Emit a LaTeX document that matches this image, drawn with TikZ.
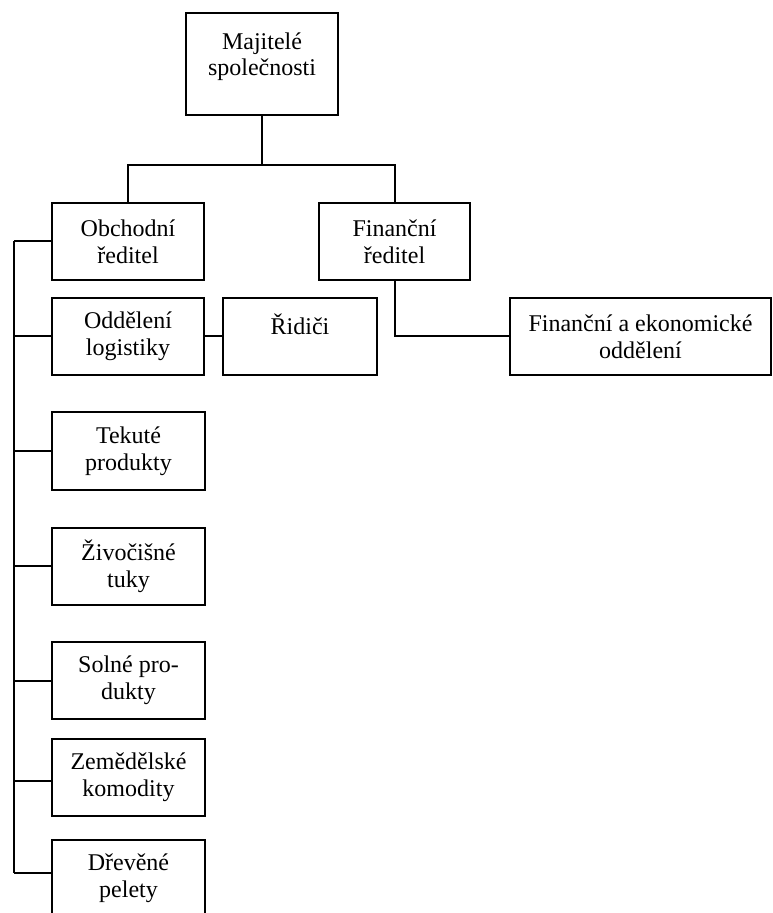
\documentclass[tikz,border=0pt]{standalone}
\usepackage{fontspec}
\setmainfont{Liberation Serif}
\begin{document}
\begin{tikzpicture}[x=0.5pt,y=-0.5pt,
  box/.style={draw,line width=1pt,inner sep=0pt,align=center,font=\fontsize{12}{13.3}\selectfont,minimum height=38.5pt},
  txt/.style={inner sep=0pt,align=center,font=\fontsize{12}{12.8}\selectfont},
  conn/.style={line width=1pt}]
\useasboundingbox (0,0) rectangle (772,913);
\clip (0,0) rectangle (772,913);
% boxes
\node[box,minimum width=76pt,minimum height=51pt] (own) at (262,64) {};
\node[txt] (ownt) at (262,57) {Majitelé\\společnosti};
\node[box,minimum width=76pt] (obch) at (128,241.5) {Obchodní\\ředitel};
\node[box,minimum width=75.5pt] (fin) at (394.5,241.5) {Finanční\\ředitel};
\node[box,minimum width=76pt] (log) at (128,336.5) {Oddělení\\logistiky};
\node[box,minimum width=77pt] (rid) at (300,336.5) {};
\node[txt] (ridt) at (300,324) {Řidiči};
\node[box,minimum width=130.5pt] (feo) at (640.5,336.5) {Finanční a ekonomické\\oddělení};
\node[box,minimum width=76.5pt] (tek) at (128.5,451) {Tekuté\\produkty};
\node[box,minimum width=76.5pt] (ziv) at (128.5,566) {Živočišné\\tuky};
\node[box,minimum width=76.5pt] (sol) at (128.5,680.5) {Solné pro-\\dukty};
\node[box,minimum width=76.5pt] (zem) at (128.5,777) {Zemědělské\\komodity};
\node[box,minimum width=76.5pt] (dre) at (128.5,878.5) {Dřevěné\\pelety};
% connectors
\coordinate (bus) at (262,165);
\draw[conn] (own.south) -- (bus);
\draw[conn] (obch.north) |- (bus) -| (fin.north);
\draw[conn] (fin.south) |- (feo.west);
\draw[conn] (log.east) -- (rid.west);
\coordinate (st) at (14,241.5);
\coordinate (sb) at (14,873);
\coordinate (zc) at (14,781);
\draw[conn] (st) -- (sb);
\draw[conn] (st) -- (obch.west);
\draw[conn] (st |- log.west) -- (log.west);
\draw[conn] (st |- tek.west) -- (tek.west);
\draw[conn] (st |- ziv.west) -- (ziv.west);
\draw[conn] (st |- sol.west) -- (sol.west);
\draw[conn] (zc) -- (zc -| zem.west);
\draw[conn] (sb) -- (sb -| dre.west);
\end{tikzpicture}
\end{document}
